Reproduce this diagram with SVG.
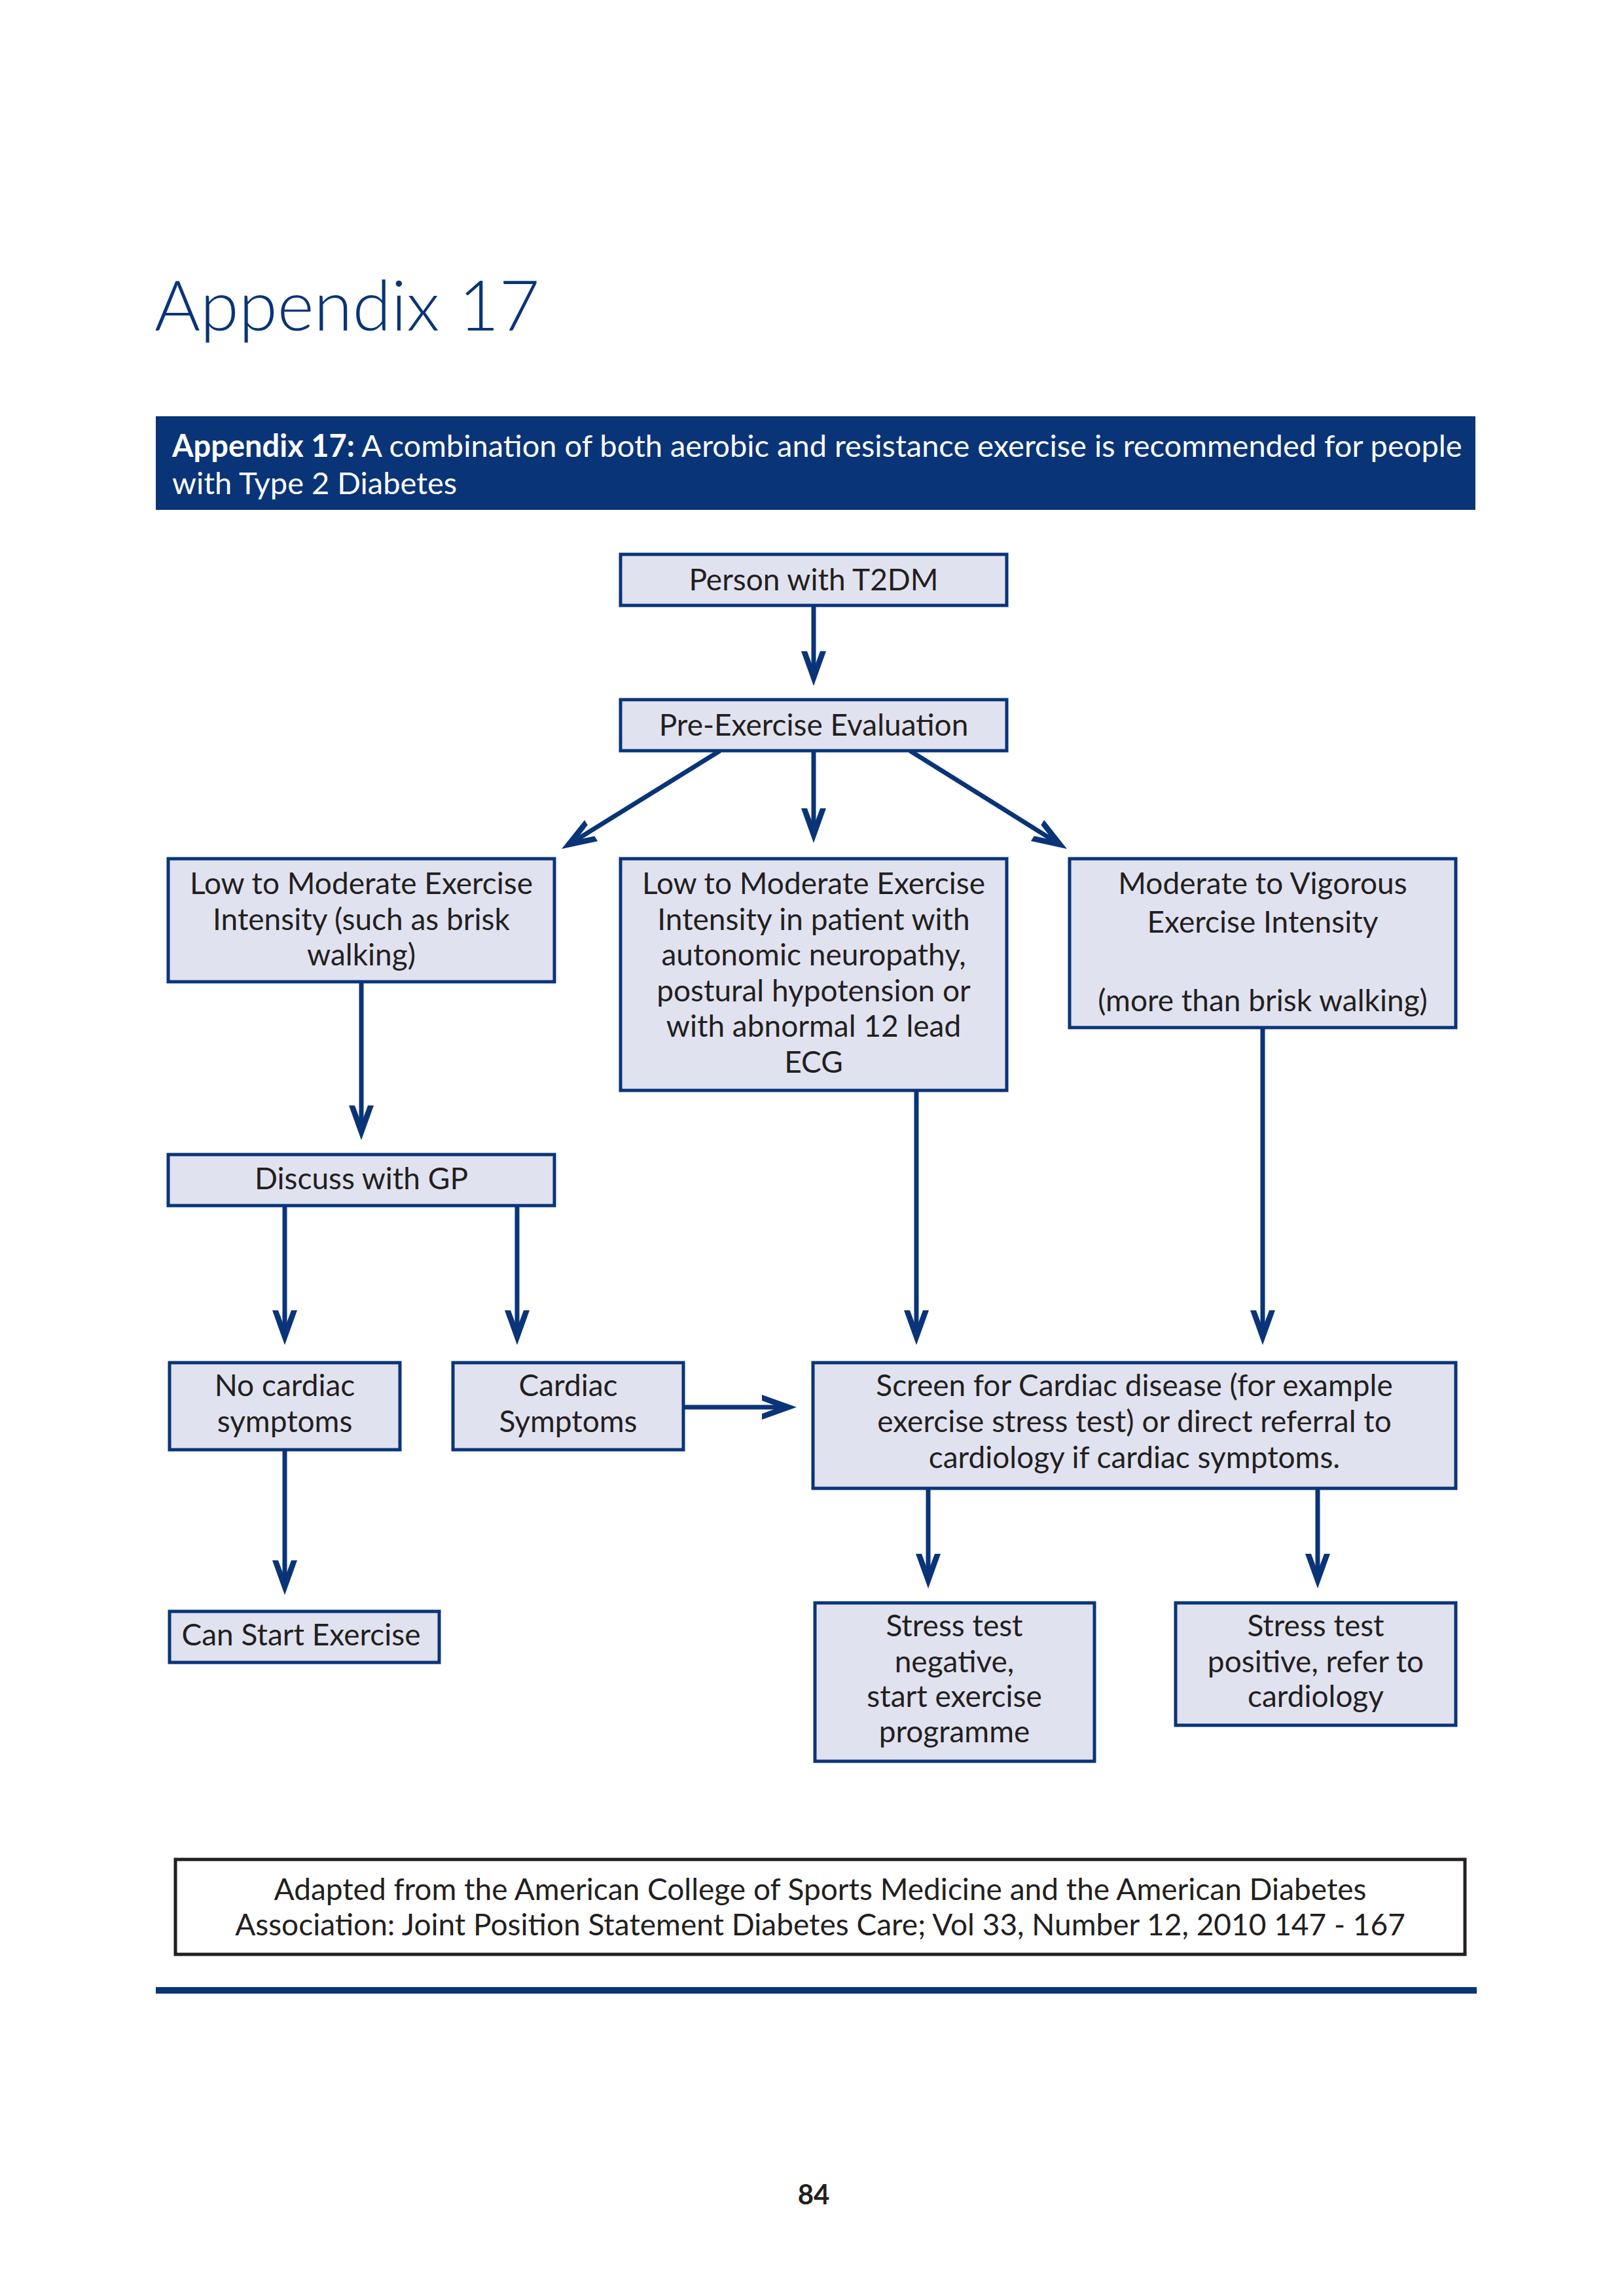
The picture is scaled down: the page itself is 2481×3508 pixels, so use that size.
<svg xmlns="http://www.w3.org/2000/svg" width="2481" height="3508" viewBox="0 0 2481 3508">
<style>
.bg{fill:#ffffff}
.node rect{fill:#e1e2ef;stroke:#0a3478;stroke-width:5}
.node text{font-family:Lato,"Noto Sans","Liberation Sans",sans-serif;font-size:46px;fill:#231f20;text-anchor:middle}
.conn line{stroke:#0a3478;stroke-width:7;fill:none}
.title{font-family:Lato,"Noto Sans","Liberation Sans",sans-serif;font-weight:300;font-size:107px;fill:#0a3478}
.banner{fill:#0a3478}
.btext{font-family:Lato,"Noto Sans","Liberation Sans",sans-serif;font-size:47px;fill:#ffffff}
.cite rect{fill:#ffffff;stroke:#231f20;stroke-width:5}
.cite text{font-family:Lato,"Noto Sans","Liberation Sans",sans-serif;font-size:46px;fill:#231f20;text-anchor:middle}
.pnum{font-family:Lato,"Noto Sans","Liberation Sans",sans-serif;font-weight:bold;font-size:42px;fill:#231f20;text-anchor:middle}
</style>
<defs>
<marker id="ah" markerUnits="userSpaceOnUse" orient="auto" refX="-12" refY="0" markerWidth="80" markerHeight="60" style="overflow:visible">
<path d="M0,0 L-53,-19 L-53,-10 L-26,0 L-53,10 L-53,19 Z" fill="#0a3478"/>
</marker>
</defs>
<rect class="bg" x="0" y="0" width="2481" height="3508"/>

<g id="header">
<text class="title" x="236" y="505">Appendix 17</text>
<rect class="banner" x="238" y="636" width="2016" height="143"/>
<text class="btext" x="263" y="698"><tspan font-weight="bold">Appendix 17:</tspan> A combination of both aerobic and resistance exercise is recommended for people</text>
<text class="btext" x="263" y="755">with Type 2 Diabetes</text>
</g>

<g id="connectors" class="conn">
<line x1="1243" y1="925" x2="1243" y2="1036" marker-end="url(#ah)"/>
<line x1="1100" y1="1147" x2="868.2" y2="1290.7" marker-end="url(#ah)"/>
<line x1="1243" y1="1147" x2="1243" y2="1276" marker-end="url(#ah)"/>
<line x1="1390" y1="1147" x2="1619.8" y2="1290.6" marker-end="url(#ah)"/>
<line x1="552" y1="1500" x2="552" y2="1730" marker-end="url(#ah)"/>
<line x1="1400" y1="1666" x2="1400" y2="2043" marker-end="url(#ah)"/>
<line x1="1929" y1="1570" x2="1929" y2="2043" marker-end="url(#ah)"/>
<line x1="435" y1="1842" x2="435" y2="2043" marker-end="url(#ah)"/>
<line x1="790" y1="1842" x2="790" y2="2043" marker-end="url(#ah)"/>
<line x1="1044" y1="2150" x2="1205" y2="2150" marker-end="url(#ah)"/>
<line x1="435" y1="2215" x2="435" y2="2425" marker-end="url(#ah)"/>
<line x1="1418" y1="2274" x2="1418" y2="2415" marker-end="url(#ah)"/>
<line x1="2013" y1="2274" x2="2013" y2="2415" marker-end="url(#ah)"/>
</g>

<g id="n-person" class="node">
<rect x="948" y="847" width="590" height="78"/>
<text x="1243" y="902">Person with T2DM</text>
</g>
<g id="n-preex" class="node">
<rect x="948" y="1069" width="590" height="78"/>
<text x="1243" y="1124">Pre-Exercise Evaluation</text>
</g>
<g id="n-lowmod" class="node">
<rect x="257" y="1312" width="590" height="188"/>
<text x="552" y="1366">Low to Moderate Exercise</text>
<text x="552" y="1421">Intensity (such as brisk</text>
<text x="552" y="1475">walking)</text>
</g>
<g id="n-lowmod-auto" class="node">
<rect x="948" y="1312" width="590" height="354"/>
<text x="1243" y="1366">Low to Moderate Exercise</text>
<text x="1243" y="1421">Intensity in patient with</text>
<text x="1243" y="1475">autonomic neuropathy,</text>
<text x="1243" y="1530">postural hypotension or</text>
<text x="1243" y="1584">with abnormal 12 lead</text>
<text x="1243" y="1639">ECG</text>
</g>
<g id="n-modvig" class="node">
<rect x="1634" y="1312" width="590" height="258"/>
<text x="1929" y="1366">Moderate to Vigorous</text>
<text x="1929" y="1425">Exercise Intensity</text>
<text x="1929" y="1545">(more than brisk walking)</text>
</g>
<g id="n-gp" class="node">
<rect x="257" y="1764" width="590" height="78"/>
<text x="552" y="1817">Discuss with GP</text>
</g>
<g id="n-nocard" class="node">
<rect x="259" y="2082" width="352" height="133"/>
<text x="435" y="2133">No cardiac</text>
<text x="435" y="2188">symptoms</text>
</g>
<g id="n-card" class="node">
<rect x="692" y="2082" width="352" height="133"/>
<text x="868" y="2133">Cardiac</text>
<text x="868" y="2188">Symptoms</text>
</g>
<g id="n-screen" class="node">
<rect x="1242" y="2082" width="982" height="192"/>
<text x="1733" y="2133">Screen for Cardiac disease (for example</text>
<text x="1733" y="2188">exercise stress test) or direct referral to</text>
<text x="1733" y="2243">cardiology if cardiac symptoms.</text>
</g>
<g id="n-start" class="node">
<rect x="259" y="2462" width="412" height="78"/>
<text x="460" y="2514">Can Start Exercise</text>
</g>
<g id="n-neg" class="node">
<rect x="1245" y="2449" width="427" height="242"/>
<text x="1458" y="2500">Stress test</text>
<text x="1458" y="2555">negative,</text>
<text x="1458" y="2608">start exercise</text>
<text x="1458" y="2662">programme</text>
</g>
<g id="n-pos" class="node">
<rect x="1796" y="2449" width="428" height="187"/>
<text x="2010" y="2500">Stress test</text>
<text x="2010" y="2555">positive, refer to</text>
<text x="2010" y="2608">cardiology</text>
</g>

<g id="citation" class="cite">
<rect x="268" y="2841" width="1970" height="145"/>
<text x="1253" y="2903">Adapted from the American College of Sports Medicine and the American Diabetes</text>
<text x="1253" y="2957">Association: Joint Position Statement Diabetes Care; Vol 33, Number 12, 2010 147 - 167</text>
</g>
<rect x="238" y="3036" width="2018" height="10" fill="#0a3478"/>
<text class="pnum" x="1243" y="3368">84</text>
</svg>
